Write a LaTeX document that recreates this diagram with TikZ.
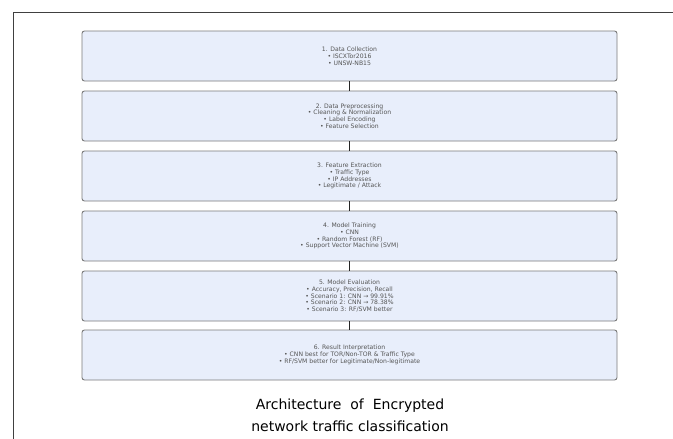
\documentclass[tikz,border=0pt]{standalone}
\usepackage{fontspec}
\setmainfont{DejaVu Sans}
\definecolor{boxfill}{HTML}{E8EEFB}
\definecolor{boxedge}{HTML}{7A7A7A}
\definecolor{boxtext}{HTML}{555555}
\begin{document}
\begin{tikzpicture}[x=1pt,y=-1pt,
  stagebox/.style={draw=boxedge, line width=0.9pt, fill=boxfill, rounded corners=2.5pt,
    minimum width=535pt, minimum height=50pt, align=center, inner sep=0pt,
    text=boxtext, font=\fontsize{6.1}{6.8}\selectfont},
  link/.style={draw=black!85, line width=1.2pt},
  frame/.style={draw=black!75, line width=1pt}]
\useasboundingbox (0,0) rectangle (673,439);
\draw[frame] (13,439) -- (13,12) -- (673,12);
\node[stagebox] (b1) at (349.5,56) {1. Data Collection\\• ISCXTor2016\\• UNSW-NB15};
\node[stagebox] (b2) at (349.5,116) {2. Data Preprocessing\\• Cleaning \& Normalization\\• Label Encoding\\• Feature Selection};
\node[stagebox] (b3) at (349.5,176) {3. Feature Extraction\\• Traffic Type\\• IP Addresses\\• Legitimate / Attack};
\node[stagebox] (b4) at (349.5,236) {4. Model Training\\• CNN\\• Random Forest (RF)\\• Support Vector Machine (SVM)};
\node[stagebox] (b5) at (349.5,296) {5. Model Evaluation\\• Accuracy, Precision, Recall\\• Scenario 1: CNN → 99.91\%\\• Scenario 2: CNN → 78.38\%\\• Scenario 3: RF/SVM better};
\node[stagebox] (b6) at (349.5,355) {6. Result Interpretation\\• CNN best for TOR/Non-TOR \& Traffic Type\\• RF/SVM better for Legitimate/Non-legitimate};
\foreach \a/\b in {b1/b2,b2/b3,b3/b4,b4/b5,b5/b6}
  \draw[link] (\a.south) -- (\b.north);
\node[align=center, font=\fontsize{14}{22}\selectfont, text=black, inner sep=0pt] (cap) at (350,415)
  {Architecture\ \ of\ \ Encrypted\\network traffic classification};
\end{tikzpicture}
\end{document}
